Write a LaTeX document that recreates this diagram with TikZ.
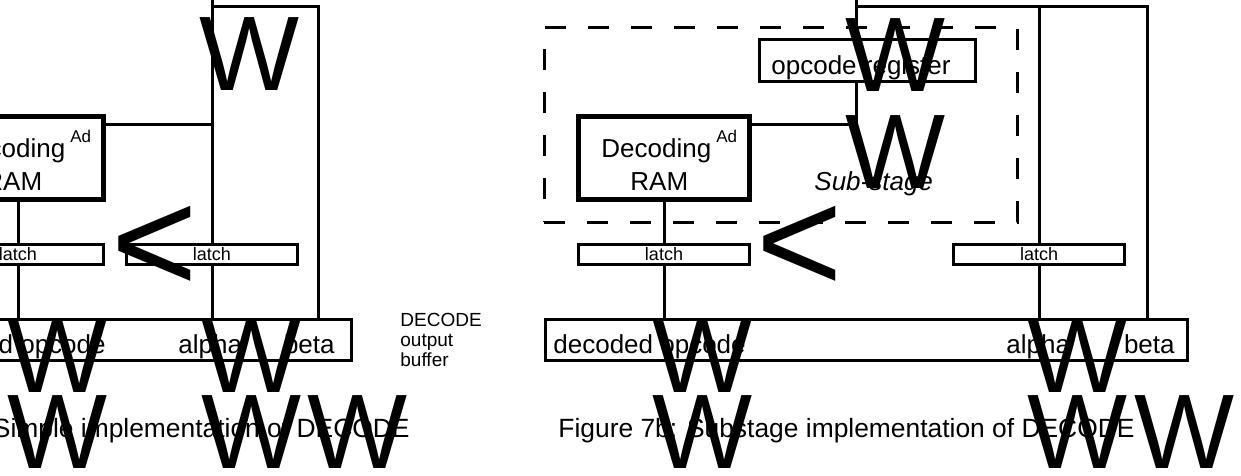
\documentclass[tikz,border=0pt]{standalone}
\usepackage{fontspec}
\setmainfont{Liberation Sans}

\begin{document}
\begin{tikzpicture}[x=0.5pt,y=-0.5pt,
	wire/.style={line width=1.5pt},
	ram/.style={draw,line width=2.5pt,minimum width=85.5pt,minimum height=41.5pt},
	latch/.style={draw,line width=1.5pt,minimum width=85.5pt,minimum height=9.75pt,font=\fontsize{9}{9}\selectfont},
	buf/.style={draw,line width=1.5pt,minimum height=20.25pt},
	wbig/.style={anchor=north west,font=\fontsize{53}{53}\selectfont},
	ltglyph/.style={anchor=base west,font=\fontsize{74}{74}\selectfont},
	adtxt/.style={anchor=base west,font=\fontsize{8.5}{8.5}\selectfont},
	captxt/.style={anchor=base west,font=\fontsize{13.2}{15}\selectfont}]
	\tikzstyle{every node}=[inner sep=0pt,font=\fontsize{13}{15}\selectfont]
	\useasboundingbox (0,0) rectangle (1241,476);
	\node[ram] (rma) at (18,158) {};
	\node[anchor=base west] (dca) at (-45,157) {Decoding};
	\node[anchor=base west] (raa) at (-16,190) {RAM};
	\node[adtxt] (ada) at (70,142) {Ad};
	\node[latch] (lla) at (18,254.5) {latch};
	\node[latch] (lra) at (212,254.5) {latch};
	\node[buf,minimum width=223pt] (bfa) at (128,340) {};
	\node[anchor=base west] (oca) at (-87,353) {decoded opcode};
	\node[anchor=base west] (ala) at (178,353) {alpha};
	\node[anchor=base east] (bea) at (335,353) {beta};
	\node[anchor=north west,align=left,font=\fontsize{9.5}{9.9}\selectfont] (dob) at (400,313) {DECODE\\output\\buffer};
	\node[captxt,anchor=base east] (capa) at (410,437) {Simple implementation of DECODE};
	\coordinate (ta) at (212,-10);
	\coordinate (ka) at (212,7);
	\coordinate (ea) at (318,7);
	\coordinate (ja) at (212,125);
	\draw[wire] (ta) -- (lra.north);
	\draw[wire] (ka) -- (ea) -- (ea |- bfa.north);
	\draw[wire] (ja -| rma.east) -- (ja);
	\draw[wire] (rma.south) -- (lla.north);
	\draw[wire] (lla.south) -- (lla.south |- bfa.north);
	\draw[wire] (lra.south) -- (lra.south |- bfa.north);

	\node[draw,wire,dash pattern=on 10.5pt off 11pt,minimum width=236.5pt,minimum height=97pt] (sub) at (780.5,125) {};
	\node[draw,wire,minimum width=108pt,minimum height=21pt] (opr) at (867.5,60.5) {};
	\node[anchor=base west] (opt) at (771,75) {opcode register};
	\node[ram] (rmb) at (664,158) {};
	\node[anchor=base west] (dcb) at (601,157) {Decoding};
	\node[anchor=base west] (rab) at (630,190) {RAM};
	\node[adtxt] (adb) at (716,142) {Ad};
	\node[anchor=base west,font=\fontsize{13}{15}\selectfont\itshape] (stg) at (814,190) {Sub-stage};
	\node[latch] (llb) at (664,254.5) {latch};
	\node[latch] (lrb) at (1039,254.5) {latch};
	\node[buf,minimum width=321.35pt] (bfb) at (866.35,340) {};
	\node[anchor=base west] (ocb) at (553,353) {decoded opcode};
	\node[anchor=base west] (alb) at (1006,353) {alpha};
	\node[anchor=base east] (beb) at (1175,353) {beta};
	\node[captxt] (capb) at (558,437) {Figure 7b: Substage implementation of DECODE};
	\coordinate (tb) at (856,-10);
	\coordinate (kb) at (856,7);
	\coordinate (eb) at (1147,7);
	\coordinate (jb) at (856,125);
	\draw[wire] (tb) -- (tb |- opr.north);
	\draw[wire] (kb) -- (eb) -- (eb |- bfb.north);
	\draw[wire] (lrb.north |- kb) -- (lrb.north);
	\draw[wire] (jb |- opr.south) -- (jb) -- (jb -| rmb.east);
	\draw[wire] (rmb.south) -- (llb.north);
	\draw[wire] (llb.south) -- (llb.south |- bfb.north);
	\draw[wire] (lrb.south) -- (lrb.south |- bfb.north);

	\node[wbig] (w1) at (199,17) {W};
	\node[wbig] (w2) at (7,319) {W};
	\node[wbig] (w3) at (201,319) {W};
	\node[wbig] (w4) at (7,395) {W};
	\node[wbig] (w5) at (201,395) {W};
	\node[wbig] (w6) at (307,395) {W};
	\node[wbig] (w7) at (845,18) {W};
	\node[wbig] (w8) at (845,115) {W};
	\node[wbig] (w9) at (652,319) {W};
	\node[wbig] (w10) at (1027,319) {W};
	\node[wbig] (w11) at (652,395) {W};
	\node[wbig] (w12) at (1027,395) {W};
	\node[wbig] (w13) at (1134,395) {W};
	\node[ltglyph] (g1) at (111,292.5) {<};
	\node[ltglyph] (g2) at (756,292.5) {<};
\end{tikzpicture}
\end{document}
